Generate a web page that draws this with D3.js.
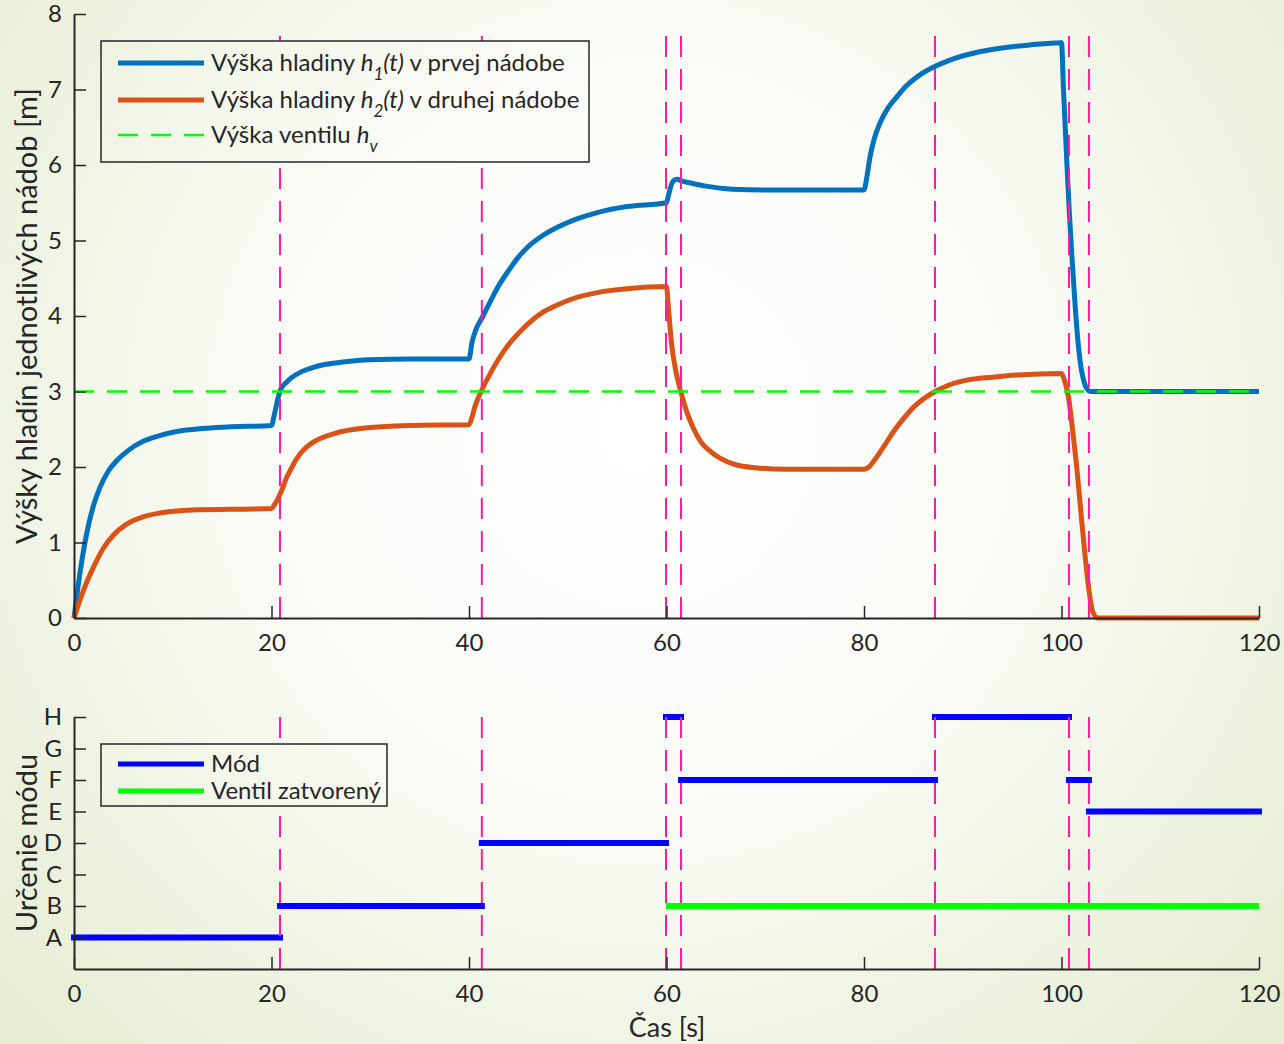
<!DOCTYPE html>
<html>
<head>
<meta charset="utf-8">
<script src="https://cdn.jsdelivr.net/npm/d3@7"></script>
<style>
  html, body { margin: 0; padding: 0; overflow: hidden; }
  text { font-family: Lato, "Open Sans", sans-serif; fill: #262626; }
</style>
</head>
<body>
<script>
// hladiny v nadobach (cas [s], vyska [m])
let h1Time  = [0,0.5,1,1.5,2,2.6,3.5,4.3,5.5,7,8.5,10.4,13,15.5,20,
               20.3,20.6,20.9,21.5,22,23,24,25.5,27.2,30,34,40,
               40.3,40.7,41.3,42,43,44,45,46,47.5,49,51,53,56,60,
               60.2,60.5,60.8,61.1,61.5,62.5,64,66.7,70,80,
               80.3,80.6,81,81.6,82.4,83.3,84.3,85.4,87.1,88.7,91.7,94,96.8,100,
               100.2,100.5,100.8,101.1,101.4,101.7,102,102.3,102.6,102.9,120];
let h1Level = [0,0.5,0.92,1.25,1.5,1.72,1.95,2.08,2.22,2.34,2.41,2.47,2.51,2.53,2.55,
               2.7,2.88,3.02,3.12,3.18,3.26,3.31,3.36,3.39,3.42,3.43,3.43,
               3.65,3.82,3.97,4.15,4.4,4.6,4.78,4.92,5.07,5.18,5.29,5.37,5.45,5.5,
               5.6,5.74,5.8,5.81,5.79,5.76,5.72,5.68,5.67,5.67,
               5.85,6.1,6.33,6.55,6.75,6.9,7.05,7.17,7.3,7.39,7.5,7.55,7.59,7.62,
               7.0,6.15,5.35,4.7,4.1,3.62,3.3,3.12,3.03,3.0,3.0];

let h2Time  = [0,0.5,1,2,3,4,5.3,7,8.7,12,20,
               20.3,21,21.5,22,22.5,23.2,24,25,26.5,29,34,40,
               40.3,40.6,41.3,42,43,44,45,46,47.5,49,51,53,56,60,
               60.2,60.5,60.9,61.4,62,62.7,63.5,64.5,65.5,67,69,72,80,
               80.5,81,82,83,84,85,86,87.2,88.5,90.4,93,95.5,100,
               100.3,100.7,101.2,101.6,102,102.4,102.8,103.2,103.7,120];
let h2Level = [0,0.2,0.38,0.68,0.93,1.1,1.24,1.34,1.39,1.43,1.45,
               1.5,1.68,1.85,1.98,2.1,2.22,2.31,2.38,2.45,2.51,2.55,2.56,
               2.66,2.8,3.02,3.2,3.43,3.62,3.77,3.9,4.05,4.15,4.25,4.31,4.36,4.39,
               4.1,3.65,3.3,3.02,2.75,2.52,2.33,2.2,2.11,2.03,1.99,1.97,1.97,
               2.0,2.08,2.27,2.47,2.64,2.79,2.9,3.0,3.08,3.15,3.19,3.22,3.24,
               3.15,2.93,2.4,1.92,1.35,0.81,0.35,0.07,0,0];

let valveHeight = 3;

// prepnutia modov
let switchTimes = [20.86,41.3,59.95,61.47,87.19,100.76,102.78];
let modeStart = [0,20.86,41.3,59.95,61.47,87.19,100.76,102.78];
let modeEnd   = [20.86,41.3,59.95,61.47,87.19,100.76,102.78,120];
let modeName  = ["A","B","D","H","F","H","F","E"];
let modeLabels = ["A","B","C","D","E","F","G","H"];
let valveStart = [59.95], valveEnd = [120], valveMode = ["B"];

let topTicks = [0,1,2,3,4,5,6,7,8];
let timeTicks = [0,20,40,60,80,100,120];

let axisColor = "#262626";
let magenta = "#ff1ba2";

let svg = d3.select("body").append("svg").attr("width",1284).attr("height",1044);

let defs = svg.append("defs");
let grad = defs.append("radialGradient").attr("id","bg")
      .attr("gradientUnits","userSpaceOnUse")
      .attr("cx",640).attr("cy",430).attr("r",860);
grad.append("stop").attr("offset","0").attr("stop-color","#ffffff");
grad.append("stop").attr("offset","0.45").attr("stop-color","#fafbf6");
grad.append("stop").attr("offset","1").attr("stop-color","#e6edd2");

svg.append("rect").attr("width",1284).attr("height",1044).attr("fill","url(#bg)");

let x = d3.scaleLinear().domain([0,120]).range([74,1259]);
let yTop = d3.scaleLinear().domain([0,8]).range([618,14]);
let yBot = d3.scaleLinear().domain([0,8]).range([969,717]);
let modeIdx = (m)=> modeLabels.indexOf(m)+1;

function styleAxis(g){
  g.select(".domain").attr("stroke",axisColor).attr("stroke-width",2);
  g.selectAll(".tick line").attr("stroke",axisColor).attr("stroke-width",1.5);
  g.selectAll(".tick text").attr("font-size",24).attr("fill",axisColor)
      .style("font-family","Lato, 'Open Sans', sans-serif");
}

// ---- horny graf ----
let lineFn = d3.line().x((d)=>x(d[0])).y((d)=>yTop(d[1])).curve(d3.curveMonotoneX);

svg.append("path")
      .datum(h1Time.map((t,i)=>[t,h1Level[i]]))
      .attr("d",lineFn).attr("fill","none")
      .attr("stroke","#0072bd").attr("stroke-width",5).attr("stroke-linejoin","round");

svg.append("path")
      .datum(h2Time.map((t,i)=>[t,h2Level[i]]))
      .attr("d",lineFn).attr("fill","none")
      .attr("stroke","#d95319").attr("stroke-width",5).attr("stroke-linejoin","round");

svg.append("line")
      .attr("x1",x(0)).attr("x2",x(120))
      .attr("y1",yTop(valveHeight)).attr("y2",yTop(valveHeight))
      .attr("stroke","#00ff00").attr("stroke-width",2.5).attr("stroke-dasharray","20,13");

svg.selectAll("line.swTop")
      .data(switchTimes)
      .enter().append("line")
                .attr("class","swTop")
                .attr("x1",(d)=>x(d)).attr("x2",(d)=>x(d))
                .attr("y1",yTop(0)).attr("y2",yTop(8)+10)
                .attr("stroke",magenta).attr("stroke-width",2).attr("stroke-dasharray","21,12");

svg.append("g").attr("transform","translate(74,0)")
      .call(d3.axisLeft(yTop).tickValues(topTicks).tickSizeInner(-12).tickSizeOuter(0).tickPadding(12))
      .call(styleAxis);
svg.append("g").attr("transform","translate(0,618)")
      .call(d3.axisBottom(x).tickValues(timeTicks).tickSizeInner(-12).tickSizeOuter(0).tickPadding(16))
      .call(styleAxis);

// legenda horna
let leg1 = svg.append("g");
leg1.append("rect").attr("x",101).attr("y",41).attr("width",488).attr("height",121)
      .attr("fill","url(#bg)").attr("stroke",axisColor).attr("stroke-width",1.5);
let leg1Rows = [
  {y:63, color:"#0072bd", dash:null, w:5, pre:"Výška hladiny ", sub:"1", post:" v prvej nádobe", arg:"(t)"},
  {y:100, color:"#d95319", dash:null, w:5, pre:"Výška hladiny ", sub:"2", post:" v druhej nádobe", arg:"(t)"},
  {y:135, color:"#00ff00", dash:"20,13", w:2.5, pre:"Výška ventilu ", sub:"v", post:"", arg:""}
];
leg1Rows.forEach((r)=>{
  leg1.append("line").attr("x1",118).attr("x2",204).attr("y1",r.y).attr("y2",r.y)
      .attr("stroke",r.color).attr("stroke-width",r.w).attr("stroke-dasharray",r.dash);
  let t = leg1.append("text").attr("x",211).attr("y",r.y+8).attr("font-size",24);
  t.append("tspan").text(r.pre);
  t.append("tspan").attr("font-style","italic").text("h");
  t.append("tspan").attr("font-style","italic").attr("font-size",17).attr("dy",9).text(r.sub);
  t.append("tspan").attr("font-style","italic").attr("dy",-9).text(r.arg);
  t.append("tspan").text(r.post);
});

svg.append("text")
      .attr("transform","translate(37,316) rotate(-90)")
      .attr("text-anchor","middle").attr("font-size",29)
      .text("Výšky hladín jednotlivých nádob [m]");

// ---- dolny graf ----
svg.selectAll("line.mode")
      .data(modeName)
      .enter().append("line")
                .attr("class","mode")
                .attr("x1",(d,i)=>x(modeStart[i])).attr("x2",(d,i)=>x(modeEnd[i]))
                .attr("y1",(d)=>yBot(modeIdx(d))).attr("y2",(d)=>yBot(modeIdx(d)))
                .attr("stroke","#0000ff").attr("stroke-width",6).attr("stroke-linecap","square");

svg.selectAll("line.valve")
      .data(valveMode)
      .enter().append("line")
                .attr("class","valve")
                .attr("x1",(d,i)=>x(valveStart[i])).attr("x2",(d,i)=>x(valveEnd[i]))
                .attr("y1",(d)=>yBot(modeIdx(d))).attr("y2",(d)=>yBot(modeIdx(d)))
                .attr("stroke","#00ff00").attr("stroke-width",6);

svg.selectAll("line.swBot")
      .data(switchTimes)
      .enter().append("line")
                .attr("class","swBot")
                .attr("x1",(d)=>x(d)).attr("x2",(d)=>x(d))
                .attr("y1",yBot(0)).attr("y2",yBot(8))
                .attr("stroke",magenta).attr("stroke-width",2).attr("stroke-dasharray","21,12");

svg.append("g").attr("transform","translate(74,0)")
      .call(d3.axisLeft(yBot).tickValues(d3.range(1,9)).tickFormat((d)=>modeLabels[d-1])
              .tickSizeInner(-12).tickSizeOuter(0).tickPadding(12))
      .call(styleAxis);
svg.append("g").attr("transform","translate(0,969)")
      .call(d3.axisBottom(x).tickValues(timeTicks).tickSizeInner(-12).tickSizeOuter(0).tickPadding(16))
      .call(styleAxis);

let leg2 = svg.append("g");
leg2.append("rect").attr("x",101).attr("y",744).attr("width",286).attr("height",62)
      .attr("fill","url(#bg)").attr("stroke",axisColor).attr("stroke-width",1.5);
let leg2Rows = [{y:764,color:"#0000ff",label:"Mód"},{y:791,color:"#00ff00",label:"Ventil zatvorený"}];
leg2Rows.forEach((r)=>{
  leg2.append("line").attr("x1",118).attr("x2",204).attr("y1",r.y).attr("y2",r.y)
      .attr("stroke",r.color).attr("stroke-width",5);
  leg2.append("text").attr("x",211).attr("y",r.y+8).attr("font-size",24).text(r.label);
});

svg.append("text")
      .attr("transform","translate(37,843) rotate(-90)")
      .attr("text-anchor","middle").attr("font-size",29)
      .text("Určenie módu");

svg.append("text")
      .attr("x",667).attr("y",1037)
      .attr("text-anchor","middle").attr("font-size",27)
      .text("Čas [s]");
</script>
</body>
</html>
